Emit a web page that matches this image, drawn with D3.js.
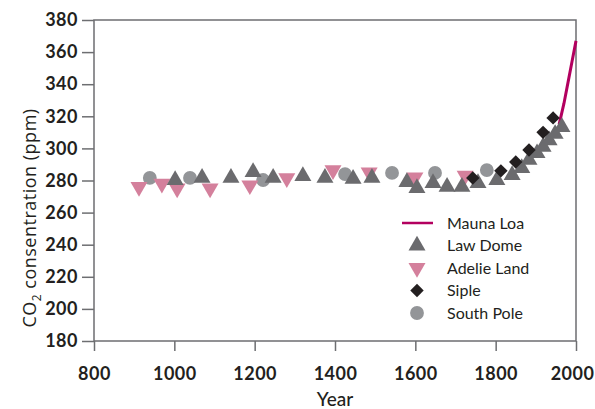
<!DOCTYPE html>
<html lang="en">
<head>
    <meta charset="UTF-8">
    <title>CO2 concentration</title>
    <script src="https://cdn.jsdelivr.net/npm/d3@7"></script>
    <style>
        body { margin: 0; background: #fff; }
        .axis path { display: none; }
        .axis line { stroke: #6d6e71; stroke-width: 1.5; }
        .axis text { font-family: Lato, sans-serif; font-size: 18px; font-weight: bold; letter-spacing: 0.5px; fill: #231f20; }
        .frame { stroke: #6d6e71; stroke-width: 1.5; fill: none; }
        .title { font-family: Lato, sans-serif; font-size: 19px; font-weight: 500; fill: #231f20; }
        .ytitle { font-family: "Open Sans", sans-serif; font-size: 18px; letter-spacing: 0.5px; fill: #231f20; }
        .legend text { font-family: Lato, sans-serif; font-size: 16px; fill: #231f20; }
    </style>
</head>
<body>
<script>
    // ice core and atmospheric records
    let maunaLoaYears = [1958, 1970, 1980, 1990, 2000]
    let maunaLoaPpm = [315, 328, 341, 354, 367]

    let lawDomeYears = [1002, 1069, 1141, 1196, 1246, 1320, 1375, 1445, 1492, 1579, 1604, 1644, 1679, 1716, 1756, 1803, 1841, 1865, 1883, 1903, 1918, 1933, 1948, 1965]
    let lawDomePpm = [280.3, 281.6, 281.6, 285.3, 281.6, 282.8, 281.6, 281, 281.6, 279, 275.3, 278.4, 276, 276, 278.4, 280.3, 283.4, 287.8, 292.8, 297, 301, 305, 309, 313.3]

    let adelieYears = [912, 969, 1007, 1089, 1188, 1280, 1395, 1485, 1599, 1724]
    let adeliePpm = [276, 278, 275, 275, 277, 281.5, 286.5, 285, 282, 283]

    let sipleYears = [1743, 1813, 1850, 1883, 1918, 1943]
    let siplePpm = [281.6, 286, 291.5, 299, 310, 319]

    let southPoleYears = [939, 1039, 1221, 1425, 1542, 1649, 1778]
    let southPolePpm = [281.6, 281.6, 280.3, 284, 284.7, 284.7, 286.5]

    let xTicks = [800, 1000, 1200, 1400, 1600, 1800, 2000]
    let yTicks = [180, 200, 220, 240, 260, 280, 300, 320, 340, 360, 380]
    let legendNames = ["Mauna Loa", "Law Dome", "Adelie Land", "Siple", "South Pole"]

    let w = 595, h = 409
    let mLeft = 94, mRight = 576, mTop = 20, mBottom = 341

    let xScale = d3.scaleLinear().domain([800, 2000]).range([mLeft, mRight])
    let yScale = d3.scaleLinear().domain([180, 380]).range([mBottom, mTop])

    let svg = d3.select("body").append("svg")
        .attr("width", w)
        .attr("height", h)

    // frame
    svg.append("path")
        .attr("class", "frame")
        .attr("d", "M" + mLeft + "," + mBottom + "V" + mTop + "H" + mRight + "V" + mBottom + "Z")

    let yAxis = d3.axisLeft(yScale).tickValues(yTicks).tickSize(12).tickPadding(4)
    svg.append("g")
        .attr("class", "axis")
        .attr("transform", "translate(" + mLeft + ",0)")
        .call(yAxis)

    let xAxis = d3.axisBottom(xScale).tickValues(xTicks).tickSize(10).tickPadding(16).tickFormat(d3.format("d"))
    let gx = svg.append("g")
        .attr("class", "axis")
        .attr("transform", "translate(0," + mBottom + ")")
        .call(xAxis)
    // last label sits a bit left of its tick so it stays inside the page
    gx.selectAll(".tick text").filter((d) => d === 2000).attr("dx", -4)

    svg.append("text")
        .attr("class", "title")
        .attr("x", (mLeft + mRight) / 2)
        .attr("y", 406)
        .attr("text-anchor", "middle")
        .text("Year")

    let yTitle = svg.append("text")
        .attr("class", "ytitle")
        .attr("transform", "translate(36,218) rotate(-90)")
        .attr("text-anchor", "middle")
    yTitle.append("tspan").text("CO")
    yTitle.append("tspan").attr("font-size", "12px").attr("dy", 5).text("2")
    yTitle.append("tspan").attr("dy", -5).text(" consentration (ppm)")

    let colors = {
        maunaLoa: "#b3005f",
        lawDome: "#6b6b6e",
        adelie: "#d4809c",
        siple: "#231f20",
        southPole: "#939598"
    }

    let triUp = d3.symbol().type(d3.symbolTriangle).size(125)
    let circle = d3.symbol().type(d3.symbolCircle).size(150)
    let diamond = d3.symbol().type(d3.symbolSquare).size(90)

    let zip = (xs, ys) => xs.map((x, i) => [x, ys[i]])

    svg.append("g").selectAll("path")
        .data(zip(southPoleYears, southPolePpm))
        .enter().append("path")
        .attr("d", circle)
        .attr("fill", colors.southPole)
        .attr("transform", (d) => "translate(" + xScale(d[0]) + "," + yScale(d[1]) + ")")

    svg.append("g").selectAll("path")
        .data(zip(adelieYears, adeliePpm))
        .enter().append("path")
        .attr("d", triUp)
        .attr("fill", colors.adelie)
        .attr("transform", (d) => "translate(" + xScale(d[0]) + "," + yScale(d[1]) + ") rotate(180)")

    let line = d3.line().x((d) => xScale(d[0])).y((d) => yScale(d[1]))
    svg.append("path")
        .datum(zip(maunaLoaYears, maunaLoaPpm))
        .attr("d", line)
        .attr("fill", "none")
        .attr("stroke", colors.maunaLoa)
        .attr("stroke-width", 3)

    svg.append("g").selectAll("path")
        .data(zip(lawDomeYears, lawDomePpm))
        .enter().append("path")
        .attr("d", triUp)
        .attr("fill", colors.lawDome)
        .attr("transform", (d) => "translate(" + xScale(d[0]) + "," + yScale(d[1]) + ")")

    svg.append("g").selectAll("path")
        .data(zip(sipleYears, siplePpm))
        .enter().append("path")
        .attr("d", diamond)
        .attr("fill", colors.siple)
        .attr("transform", (d) => "translate(" + xScale(d[0]) + "," + yScale(d[1]) + ") rotate(45)")

    // legend
    let lx = 417, ly = 223, step = 22.5
    let legend = svg.append("g").attr("class", "legend")
    legend.append("line")
        .attr("x1", lx - 15).attr("x2", lx + 16)
        .attr("y1", ly).attr("y2", ly)
        .attr("stroke", colors.maunaLoa).attr("stroke-width", 2.5)
    legend.append("path").attr("d", triUp).attr("fill", colors.lawDome)
        .attr("transform", "translate(" + lx + "," + (ly + step) + ")")
    legend.append("path").attr("d", triUp).attr("fill", colors.adelie)
        .attr("transform", "translate(" + lx + "," + (ly + step * 2) + ") rotate(180)")
    legend.append("path").attr("d", diamond).attr("fill", colors.siple)
        .attr("transform", "translate(" + lx + "," + (ly + step * 3) + ") rotate(45)")
    legend.append("path").attr("d", circle).attr("fill", colors.southPole)
        .attr("transform", "translate(" + lx + "," + (ly + step * 4) + ")")
    legend.selectAll("text")
        .data(legendNames)
        .enter().append("text")
        .attr("x", 447)
        .attr("y", (d, i) => ly + step * i)
        .attr("dy", "0.36em")
        .text((d) => d)
</script>
</body>
</html>
